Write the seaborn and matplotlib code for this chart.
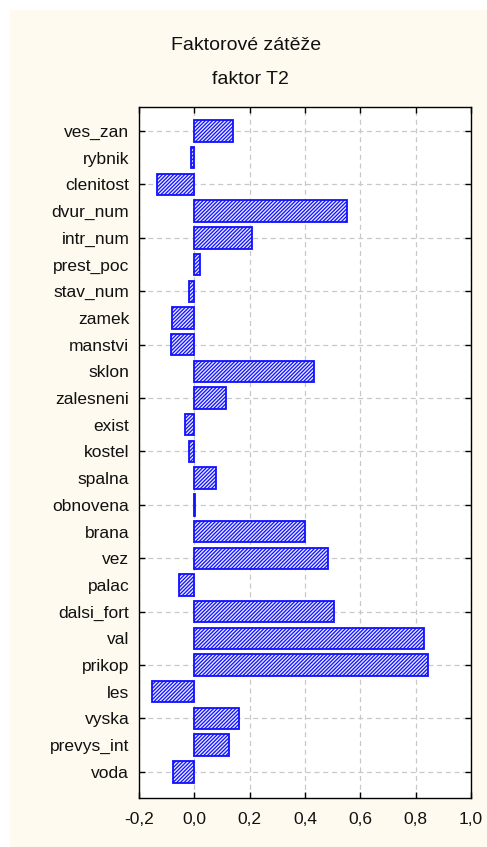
import matplotlib
matplotlib.use("Agg")
import matplotlib.pyplot as plt
import matplotlib.patches as mpatches
import seaborn as sns
import pandas as pd
import numpy as np

# Factor loadings for factor T2
variables = ["ves_zan", "rybnik", "clenitost", "dvur_num", "intr_num", "prest_poc",
             "stav_num", "zamek", "manstvi", "sklon", "zalesneni", "exist", "kostel",
             "spalna", "obnovena", "brana", "vez", "palac", "dalsi_fort", "val",
             "prikop", "les", "vyska", "prevys_int", "voda"]
loadings = [0.139, -0.011, -0.136, 0.552, 0.209, 0.021, -0.019, -0.080, -0.083,
            0.432, 0.114, -0.034, -0.019, 0.077, 0.003, 0.400, 0.484, -0.054,
            0.505, 0.831, 0.844, -0.152, 0.161, 0.125, -0.078]
x_ticks = [-0.2, 0.0, 0.2, 0.4, 0.6, 0.8, 1.0]
x_tick_labels = ["-0,2", "0,0", "0,2", "0,4", "0,6", "0,8", "1,0"]
title_lines = ["Faktorové zátěže", "faktor T2"]

df = pd.DataFrame({"variable": variables, "loading": loadings})

sns.set_theme(style="white")
plt.rcParams["font.family"] = ["Liberation Sans", "DejaVu Sans"]
plt.rcParams["hatch.linewidth"] = 0.9

fig = plt.figure(figsize=(4.87, 8.47), dpi=100)
fig.patch.set_facecolor("white")
# cream panel behind the chart
fig.patches.append(mpatches.Rectangle((10 / 487, 0), 1, 1 - 10 / 847,
                                      transform=fig.transFigure,
                                      facecolor="#FEFAF0", edgecolor="none", zorder=-10))

ax = fig.add_axes([139 / 487, 1 - 798 / 847, (471 - 139) / 487, (798 - 107) / 847])
ax.set_zorder(1)
ax.set_facecolor("white")

sns.barplot(data=df, x="loading", y="variable", orient="h", ax=ax,
            color="white", edgecolor="#0000FF", linewidth=1.3, width=0.8,
            order=variables, zorder=3)
for p in ax.patches:
    p.set_hatch("/////////")
    p.set_facecolor("#E8E8FF")
    p.set_edgecolor("#1010FF")

ax.set_xlim(-0.2, 1.0)
ax.set_ylim(24.98, -0.9)

ax.set_xticks(x_ticks, labels=x_tick_labels)
pos = np.arange(len(variables))
ax.set_yticks(pos[::2], labels=variables[::2])
ax.set_yticks(pos[1::2], labels=variables[1::2], minor=True)

ax.set_xlabel("")
ax.set_ylabel("")

ax.grid(True, which="major", color="#C8C8C8", linestyle=(0, (4, 3)), linewidth=0.9, zorder=0)
ax.set_axisbelow(True)

ax.tick_params(axis="both", which="major", direction="in", length=4, width=1,
               color="black", labelsize=12.5, labelcolor="#111111")
ax.tick_params(axis="y", which="major", left=True, right=True, pad=7)
ax.tick_params(axis="x", which="major", bottom=True, top=True, pad=10)
ax.tick_params(axis="y", which="minor", left=False, right=False, length=0,
               labelsize=12.5, pad=7, labelcolor="#111111")

for s in ax.spines.values():
    s.set_visible(True)
    s.set_color("black")
    s.set_linewidth(1.0)

fig.text(246 / 487, 1 - 45 / 847, title_lines[0], ha="center", va="center",
         fontsize=14, color="#111111")
fig.text(250 / 487, 1 - 80 / 847, title_lines[1], ha="center", va="center",
         fontsize=14, color="#111111")

fig.savefig("out.png", dpi=100)
